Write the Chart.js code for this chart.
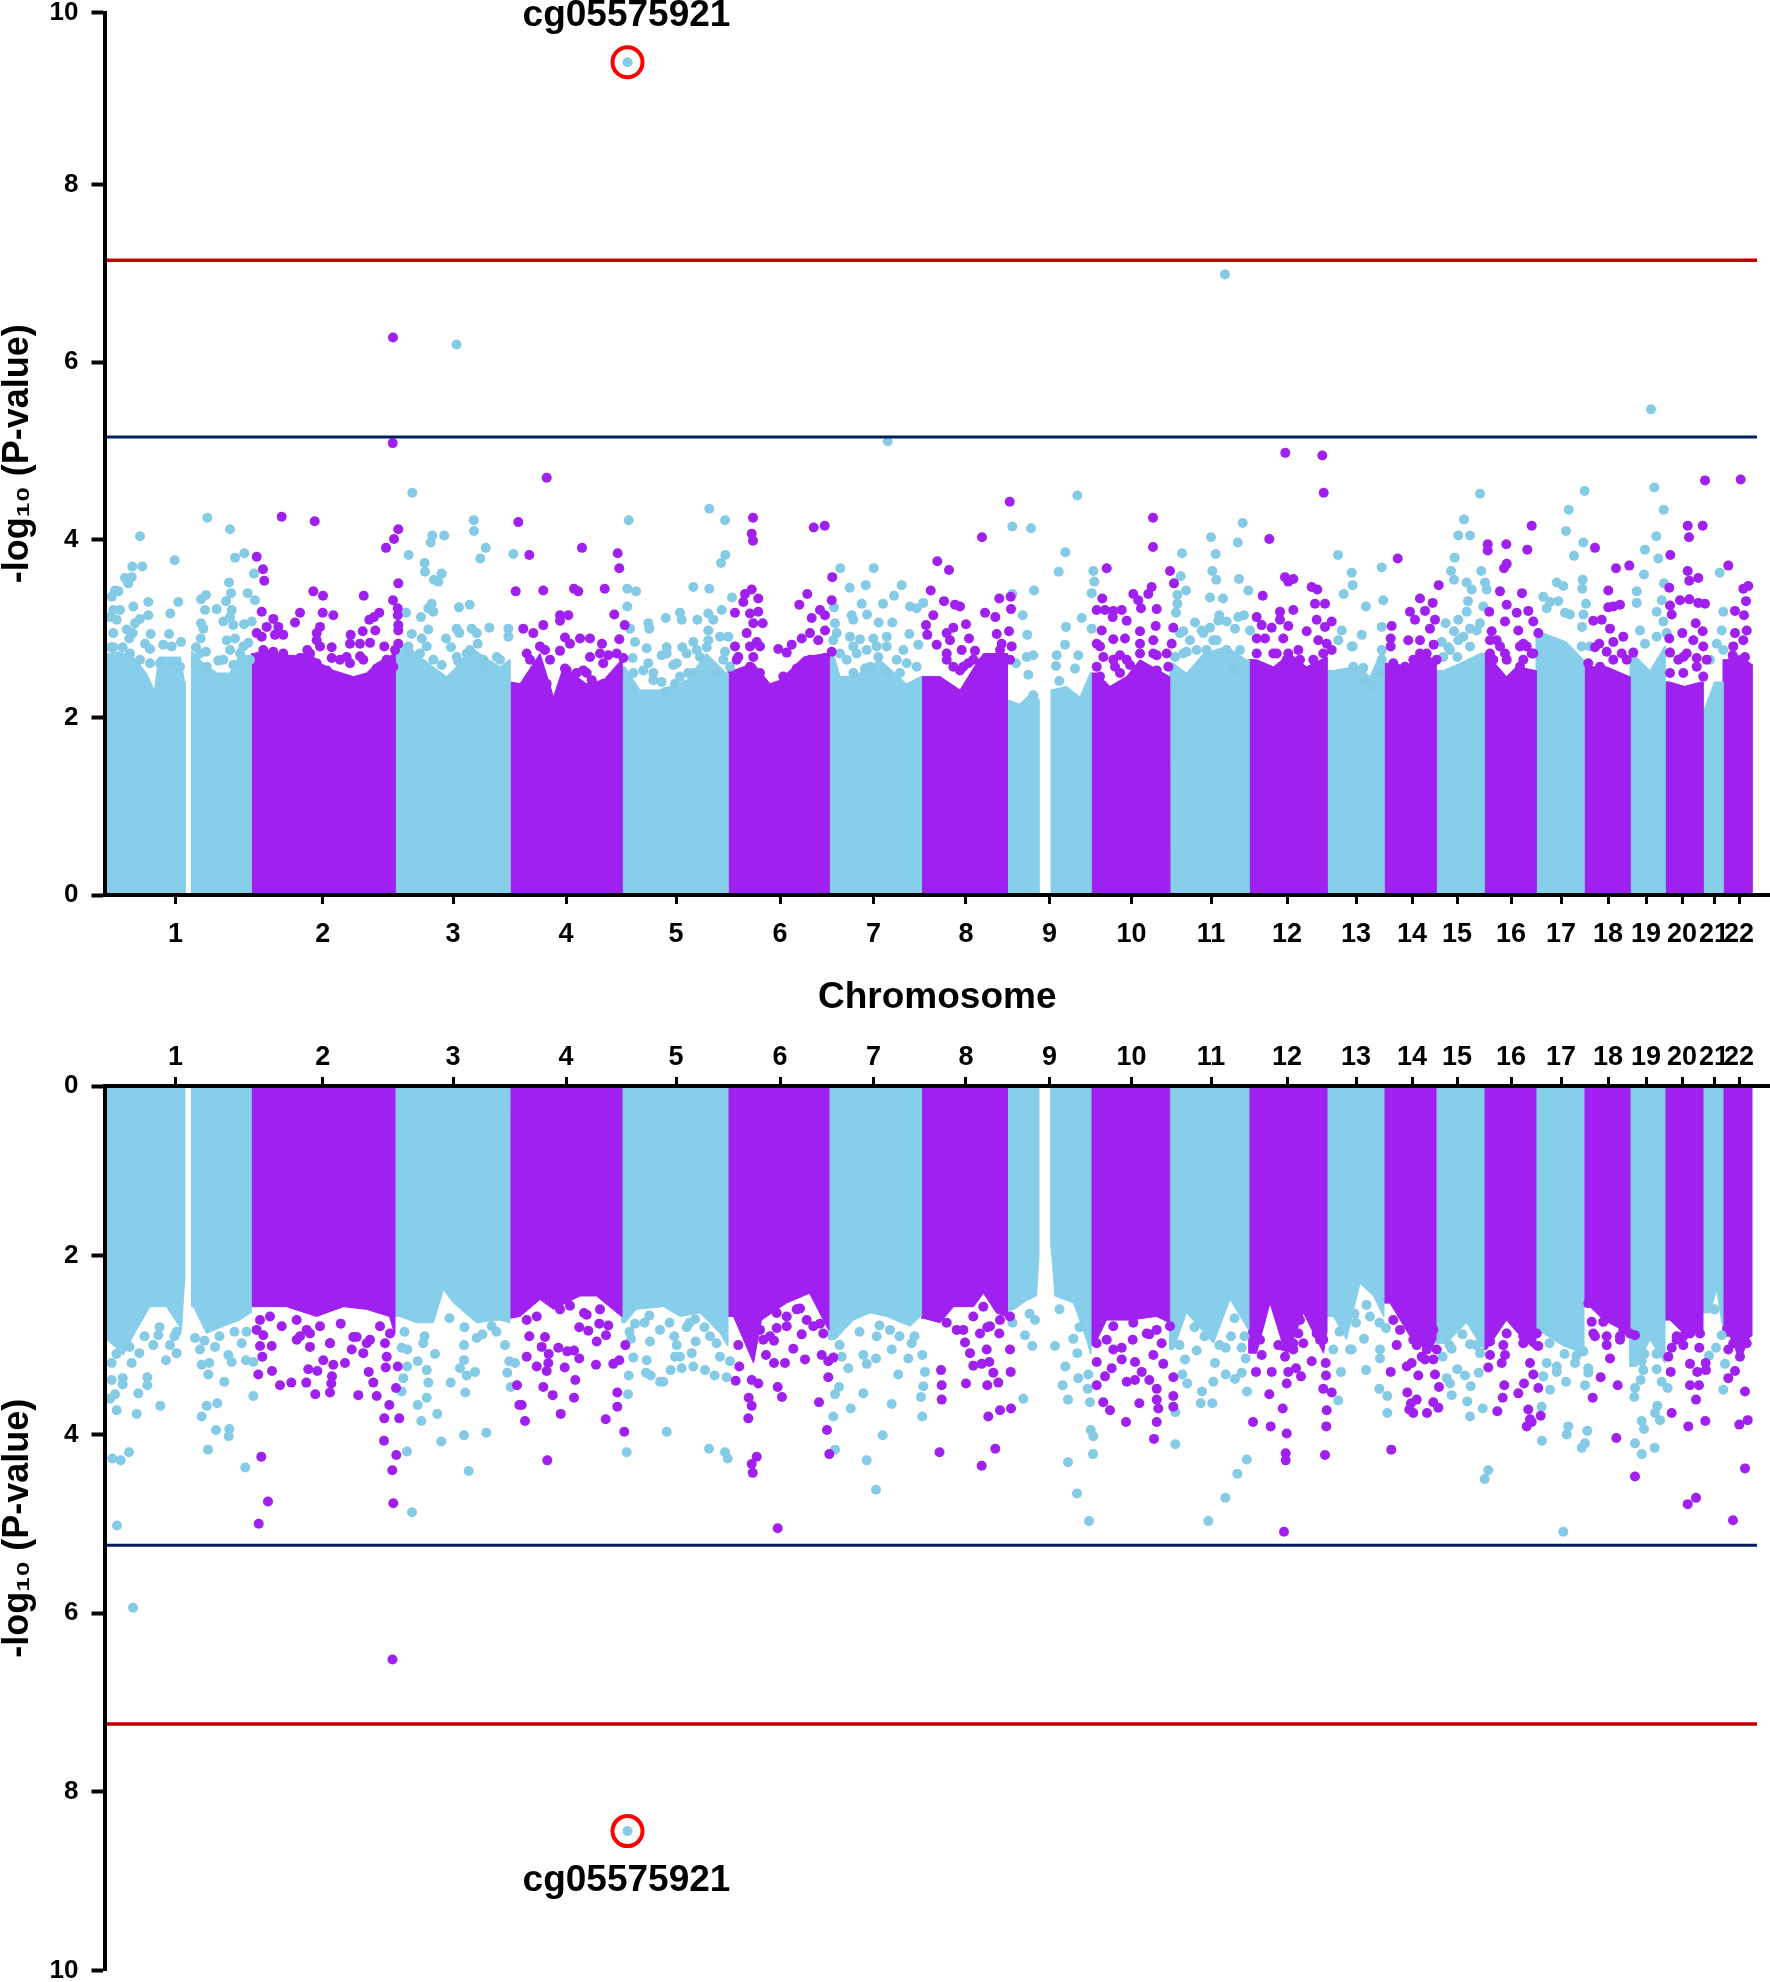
<!DOCTYPE html>
<html>
<head>
<meta charset="utf-8">
<style>
  html, body { margin: 0; padding: 0; background: #fff; }
  canvas { position: absolute; left: 0; }
  #topChart { top: 0; }
  #bottomChart { top: 1000px; }
</style>
<script src="https://cdn.jsdelivr.net/npm/chart.js@4"></script>
</head>
<body>
<canvas id="topChart" width="1770" height="1040"></canvas>
<canvas id="bottomChart" width="1770" height="982"></canvas>
<script>
// chromosome axis
const chromNames = ['1','2','3','4','5','6','7','8','9','10','11','12','13','14','15','16','17','18','19','20','21','22'];
const chromTicks = [70.9,218.3,348.5,461.5,571.5,675.5,769,861.5,945,1027,1106.5,1182.5,1251.5,1307.5,1352.5,1406.5,1456.5,1503.5,1541.5,1577.5,1609.5,1634.5];
const xMax = 1665.5;
const lineEnd = 1652.5;

// y axis: the printed ticks are not quite evenly spaced, so 10 (top) and 0 (bottom) sit a bit off
const yTickLabels = [0,2,4,6,8,10];
const topYTicks = [0,2,4,6,8,9.94];
const bottomYTicks = [0.1,2,4,6,8,10];

// significance lines
const topRedLine = 7.15, topBlueLine = 5.16;
const bottomRedLine = 7.24, bottomBlueLine = 5.24;

// highlighted probe
const probeName = 'cg05575921';
const topProbe = [523, 9.38];
const bottomProbe = [523, 8.44];

// solid part of each chromosome (1 and 9 have a centromere gap)
const bandChrom = [1,1,2,3,4,5,6,7,8,9,9,10,11,12,13,14,15,16,17,18,19,20,21,22];
const bandEdges = [[2.5,80.5],[87,146.8],[146.8,290.5],[290.5,405.5],[405.5,517.5],[517.5,623.5],[623.5,724.5],[724.5,817],[817,903],[903,934.5],[946.5,986.5],[986.5,1065.2],[1065.2,1144.5],[1144.5,1222.5],[1222.5,1279.5],[1279.5,1331.5],[1331.5,1379.5],[1379.5,1431.5],[1431.5,1479.5],[1479.5,1525.5],[1525.5,1560.5],[1560.5,1598.5],[1598.5,1618.5],[1618.5,1647.5]];

const topBands = [
  [[2.5,2.72],[15,2.74],[29,2.68],[42,2.5],[50,2.3],[54,2.68],[76,2.68],[80,2.4]],
  [[87,2.75],[100,2.6],[113,2.5],[125,2.5],[135,2.7],[146,2.7]],
  [[149,2.72],[162,2.76],[182,2.68],[192,2.65],[202,2.76],[216,2.61],[229,2.53],[249,2.46],[262,2.5],[272,2.61],[290,2.72]],
  [[295.5,2.83],[312,2.72],[329,2.57],[342,2.46],[352,2.57],[366,2.8],[379,2.69],[395.5,2.57],[405,2.65]],
  [[406,2.4],[415.5,2.38],[435.5,2.72],[449,2.23],[459,2.57],[482,2.38],[499,2.42],[517,2.65]],
  [[520.5,2.57],[535.5,2.31],[555.5,2.31],[582,2.42],[602,2.72],[622,2.5]],
  [[629,2.53],[649,2.61],[665.5,2.38],[675.5,2.42],[699,2.68],[722,2.72]],
  [[729,2.72],[735.5,2.46],[749,2.46],[775.5,2.65],[802,2.38],[816,2.46]],
  [[817,2.46],[835.5,2.46],[855.5,2.31],[872,2.61],[879,2.72],[902,2.72]],
  [[903,2.2],[915,2.15],[929,2.3],[934.5,2.2]],
  [[946.5,2.31],[962,2.35],[975.5,2.23],[985.5,2.5]],
  [[992,2.5],[1005.5,2.35],[1022,2.46],[1035.5,2.65],[1065,2.46]],
  [[1069,2.61],[1082,2.5],[1099,2.72],[1122,2.8],[1142,2.65]],
  [[1152,2.65],[1169,2.57],[1185.5,2.72],[1202,2.57],[1222,2.68]],
  [[1229,2.53],[1249,2.57],[1255.5,2.57],[1265.5,2.46],[1279,2.8]],
  [[1289,2.61],[1302,2.57],[1315.5,2.72],[1331,2.65]],
  [[1339,2.53],[1355.5,2.61],[1375.5,2.72]],
  [[1382,2.72],[1402,2.46],[1412,2.57],[1431,2.53]],
  [[1439,2.95],[1462,2.85],[1479,2.65]],
  [[1485.5,2.57],[1502,2.57],[1525,2.46]],
  [[1532,2.68],[1545.5,2.53],[1560,2.8]],
  [[1565,2.4],[1580,2.35],[1597,2.4]],
  [[1600,2.1],[1610,2.4],[1618,2.4]],
  [[1622,2.65],[1635,2.7],[1647,2.6]]
];

const bottomBands = [
  [[2.5,2.94],[18.8,3.11],[32,2.83],[45.5,2.57],[62,2.57],[77,2.83],[80,2.3]],
  [[89,2.57],[102,2.87],[119,2.79],[135.5,2.72],[146,2.64]],
  [[149,2.57],[162,2.57],[182,2.57],[212,2.68],[239,2.57],[262,2.6],[285,2.68],[290,2.87]],
  [[295.5,2.68],[312,2.75],[329,2.75],[339,2.38],[349,2.53],[372,2.75],[395.5,2.72],[405,2.75]],
  [[406,2.7],[415.5,2.68],[435.5,2.49],[449,2.6],[475.5,2.45],[492,2.45],[517,2.68]],
  [[520.5,2.75],[532,2.6],[559,2.57],[575.5,2.68],[595.5,2.64],[615.5,2.87],[623,3.01]],
  [[629,2.68],[649,3.2],[657,2.72],[682,2.53],[705,2.42],[724,2.83]],
  [[730.5,2.94],[749,2.72],[765.5,2.64],[782,2.68],[805.5,2.79],[816,2.68]],
  [[819,2.7],[835.5,2.75],[849,2.57],[869,2.57],[879,2.42],[892,2.64],[902,2.68]],
  [[903,2.62],[910,2.6],[922,2.5],[932,2.45],[934.5,2.0]],
  [[946.5,1.9],[950.5,2.45],[969,2.53],[982,2.94],[986,3.1]],
  [[990,3.0],[1002,2.72],[1025.5,2.72],[1052,2.68],[1065,2.75]],
  [[1069,3.05],[1082,2.64],[1109,2.98],[1125.5,2.49],[1144,2.83]],
  [[1152,3.09],[1165.5,2.53],[1182,3.13],[1199,2.64],[1219,3.09],[1222,2.87]],
  [[1229,2.68],[1242,2.94],[1255.5,2.31],[1269,2.45],[1279,2.68]],
  [[1285.5,2.53],[1305.5,2.9],[1325.5,3.09],[1331,2.94]],
  [[1342,2.98],[1362,2.75],[1379,3.05]],
  [[1382,3.05],[1402,2.72],[1419,2.94],[1431,3.05]],
  [[1439,2.87],[1459,3.01],[1479,3.09]],
  [[1485.5,2.57],[1499,2.72],[1525,2.87]],
  [[1532,3.24],[1545.5,2.94],[1560,3.2]],
  [[1565.5,2.72],[1582,2.9],[1598,2.83]],
  [[1605.5,2.64],[1612,2.38],[1618,2.79]],
  [[1625.5,2.9],[1635.5,3.17],[1645.5,2.9]]
];

// scattered probes above the solid part
const topBlue = [
  [523,9.38],[1120.5,6.99],[352,6.2],[1546.5,5.47],[783.2,5.11],
  [35.5,4.04],[102.8,4.25],[125.5,4.12],[70.2,3.77],[130.5,3.8],[139.8,3.85],[27.8,3.7],[37.8,3.7],[149.5,3.62],[20.5,3.57],[27.2,3.58],[23.8,3.51],[10.5,3.43],[7.2,3.36],[13.8,3.42],[43.8,3.3],[73.8,3.3],[124.5,3.52],[126.5,3.4],[101.5,3.38],[96.5,3.33],[143.2,3.4],[150.5,3.32],[121.5,3.31],[28.8,3.25],[15.5,3.21],[8.8,3.21],[5.5,3.13],[12.2,3.1],[65.8,3.17],[100.5,3.21],[112.2,3.22],[127.2,3.21],[125.5,3.13],[43.8,3.15],[35.5,3.11],[30.5,3.06],[96.5,3.06],[98.8,3],[118.8,3.08],[128.8,3.04],[139.5,3.05],[147.2,3.08],[22.2,2.99],[28.2,2.95],[8.8,2.95],[24.8,2.89],[46.2,2.94],[64.5,2.94],[96.2,2.89],[122.2,2.87],[130.5,2.89],[40.5,2.83],[45.5,2.77],[58.8,2.82],[67.2,2.8],[76.5,2.85],[6.5,2.79],[18.2,2.79],[91.5,2.79],[101.5,2.74],[138.8,2.8],[143.8,2.84],[45.5,2.61],[113.8,2.64],[128.8,2.59],
  [307.8,4.53],[369.2,4.22],[369.5,4.1],[327.8,4.05],[339.8,4.05],[326.2,3.97],[381.2,3.91],[304.2,3.83],[375.8,3.79],[408.8,3.84],[320.2,3.74],[320.5,3.64],[337.2,3.62],[329.5,3.55],[333.8,3.53],[301.5,3.18],[327.2,3.28],[323.8,3.23],[328.8,3.19],[354.5,3.24],[365.2,3.27],[316.5,3.13],[323.8,2.99],[317.2,2.89],[307.2,2.94],[341.5,2.89],[352.2,3],[354.8,2.95],[367.2,3],[372.2,2.95],[384.8,3.01],[403.8,3],[403.8,2.91],[346.5,2.79],[373.2,2.83],[365.5,2.76],[352.2,2.68],[353.8,2.63],[322.2,2.8],[337.2,2.59],[378.8,2.65],[392.2,2.68],[303.8,2.8],
  [524.2,4.22],[604.8,4.35],[620.5,4.22],[620.8,3.83],[616.5,3.74],[588.8,3.47],[604.8,3.45],[522.8,3.45],[531.5,3.42],[522.8,3.25],[627.5,3.35],[561.2,3.12],[575.5,3.18],[577.2,3.1],[592.8,3.1],[603.8,3.17],[617.2,3.21],[608.8,3.1],[543.8,3.06],[544.8,3],[525.5,3],[603.8,2.98],[615.5,2.91],[623.8,2.91],[603.8,2.87],[530.5,2.85],[542.2,2.78],[562.2,2.79],[577.8,2.79],[588.8,2.85],[592.2,2.76],[557.2,2.7],[568.8,2.59],[543.8,2.61],[620.5,2.74],[528.2,2.67],[548.8,2.5],[557.2,2.4],[570.5,2.38],[561.2,2.29],[625.5,2.57],[583.8,2.5],
  [735.8,3.68],[769.2,3.68],[745.2,3.46],[761.2,3.49],[797.2,3.49],[789.5,3.37],[757.2,3.28],[778.5,3.28],[729.5,3.24],[747.2,3.15],[762.5,3.16],[748.8,3.1],[774.2,3.07],[787.8,3.07],[805.5,3.25],[818.8,3.29],[812.2,3.23],[730.5,3.06],[732.2,2.95],[728.8,2.87],[804.8,2.94],[745.5,2.91],[755.5,2.88],[768.8,2.89],[782.2,2.91],[798.8,2.76],[813.8,2.82],[748.8,2.8],[760.5,2.55],[773.8,2.68],
  [972.8,4.5],[907.8,4.15],[926.5,4.13],[960.8,3.86],[954.2,3.64],[929.5,3.43],[907.8,3.39],[918.2,3.15],[961.5,3.02],[922.8,2.93],[977.2,3.12],[960.5,2.82],[952.2,2.7],[951.5,2.58],[954.8,2.41],[922.2,2.68],[928.8,2.7],[923.8,2.48],[970.5,2.55],[973.8,2.7],[987.2,3],[987.2,3.4],[989.8,3.53],[988.8,3.65],[911.5,2.61],[928.8,2.25],
  [1077.5,3.85],[1106.5,4.03],[1111.2,3.84],[1138.2,4.19],[1133.2,3.97],[1107.8,3.65],[1111.8,3.55],[1076.2,3.59],[1081.5,3.43],[1134.5,3.56],[1143.8,3.43],[1105.5,3.35],[1118.5,3.34],[1072.8,3.38],[1072.8,3.28],[1071.5,3.18],[1114.8,3.15],[1090.5,3.07],[1113.8,3.09],[1122.2,3.08],[1133.8,3.13],[1139.5,3.15],[1105.5,3.01],[1130.5,3],[1145.5,2.98],[1078.8,2.97],[1097.2,2.98],[1082.2,2.74],[1108.8,2.87],[1070.5,2.68],
  [1233.5,3.83],[1247.2,3.63],[1248.2,3.49],[1239.2,3.39],[1237.2,2.98],[1233.8,2.87],[1247.2,2.8],[1261.5,3.25],[1277.2,3.69],[1278.8,3.32],[1257.2,2.93],[1248.2,2.8],[1258.8,2.56],[1277.2,3.02],[1277.2,2.76],
  [1375.5,4.52],[1359.5,4.23],[1353.8,4.05],[1365.5,4.05],[1350.2,3.8],[1346.5,3.65],[1349.5,3.55],[1376.8,3.65],[1362.2,3.52],[1367.2,3.44],[1380.5,3.52],[1382.2,3.44],[1363.5,3.31],[1362.2,3.19],[1378.8,3.25],[1353.8,3.1],[1341.2,3.06],[1375.5,3.06],[1365.5,3],[1349.5,2.97],[1337.2,2.85],[1343.8,2.79],[1353.8,2.87],[1352.8,2.68],
  [1480.2,4.55],[1464.2,4.34],[1461.5,4.1],[1478.8,3.97],[1469.5,3.82],[1452.2,3.52],[1458.8,3.48],[1478.2,3.55],[1477.8,3.45],[1438.8,3.36],[1445.5,3.3],[1453.8,3.31],[1442.2,3.23],[1460.5,3.18],[1465.5,3.16],[1481.5,3.28],[1478.8,3.16],[1477.5,3.02],[1477.2,2.8],[1485.5,2.8],
  [1549.8,4.59],[1559.2,4.34],[1551.8,4.04],[1540.5,3.89],[1553.8,3.79],[1539.5,3.61],[1559.5,3.51],[1532.2,3.42],[1532.2,3.29],[1557.2,3.32],[1552.2,3.19],[1558.8,3.08],[1535.5,2.98],[1552.2,2.91],[1540.5,2.83],[1562.2,2.95],
  [1615.2,3.63],[1618.8,3.19],[1617.2,2.98],[1612.2,2.83],[1605.5,2.65],[1618.8,2.76]
];

const topPurple = [
  [288.5,6.28],[288.2,5.09],
  [177.2,4.26],[210.2,4.21],[293.8,4.12],[289.5,4.01],[281.5,3.91],[152.2,3.81],[158.5,3.67],[159.8,3.54],[293.8,3.51],[208.8,3.42],[218.5,3.37],[259.2,3.37],[288.5,3.32],[293.2,3.23],[293.2,3.15],[157.2,3.19],[195.5,3.18],[218.2,3.18],[228.8,3.15],[274.8,3.18],[269.5,3.13],[264.8,3.1],[168.8,3.11],[190.5,3.07],[162.2,3.02],[173.8,3.02],[215.5,3.02],[293.8,3.04],[293.8,2.98],[152.2,2.95],[157.2,2.91],[170.5,2.93],[178.8,2.93],[212.2,2.95],[212.2,2.87],[246.2,2.93],[258.2,2.97],[270.8,2.98],[245.5,2.83],[255.5,2.83],[265.5,2.84],[279.8,2.8],[215.5,2.8],[227.2,2.79],[158.8,2.76],[168.8,2.74],[178.8,2.72],[202.8,2.76],[293.8,2.83],[290.5,2.76],[227.2,2.67],[242.2,2.68],[255.5,2.69],[188.8,2.65],
  [413.8,4.2],[411.2,3.42],[442.2,4.7],[424.8,3.83],[477.5,3.91],[513.2,3.85],[514.8,3.68],[438.8,3.43],[469.5,3.45],[473.8,3.42],[500.2,3.45],[455.5,3.15],[463.8,3.15],[455.5,3.09],[509.8,3.16],[438.8,3.04],[418.8,3],[428.8,2.95],[520.2,3.04],[460.5,2.9],[475.5,2.89],[485.5,2.89],[465.5,2.83],[455.5,2.75],[497.5,2.83],[514.8,2.88],[440.5,2.76],[425.5,2.65],[485.5,2.68],[495.5,2.72],[503.8,2.7],[518.8,2.67],[460.5,2.55],[478.8,2.53],
  [648.5,4.25],[647.2,4.07],[648.5,3.99],[709.2,4.14],[720.2,4.16],[727.8,3.58],[702.8,3.39],[694.8,3.27],[647.2,3.44],[640.5,3.39],[653.8,3.34],[638.8,3.3],[630.5,3.18],[645.5,3.17],[653.8,3.19],[658.2,3.06],[648.8,3.06],[715.5,3.21],[727.2,3.32],[707.2,3.12],[720.5,3.15],[720.5,2.98],[713.8,2.87],[705.5,2.95],[697.2,2.89],[642.2,2.95],[652.2,2.85],[630.5,2.8],[673.8,2.77],[682.2,2.73],[687.2,2.82],[648.8,2.68],[633.8,2.68],[727.2,2.74],[720.5,2.67],
  [832.8,3.76],[826.2,3.43],[828.8,3.15],[821.5,3.04],[822.8,2.93],[832.2,2.82],[844.5,3.66],[877.5,4.03],[905.2,4.43],[839.5,3.31],[850.5,3.27],[855.5,3.25],[880.5,3.18],[890.8,3.13],[894.8,3.34],[906.5,3.22],[906.2,3.36],[861.5,3.05],[848.8,3.01],[892.2,2.94],[904.5,2.97],[864.5,2.89],[842.2,2.95],[845.5,2.87],[857.2,2.76],[870.5,2.75],[897.2,2.83],[907.2,2.8],[842.2,2.72],[877.2,2.62],[863.8,2.61],[855.5,2.53],[895.5,2.76],
  [1048.5,4.25],[1048.5,3.92],[1002.2,3.68],[1065.5,3.65],[1069.5,3.51],[997.8,3.34],[1047.2,3.47],[1043.8,3.39],[1028.8,3.39],[1033.8,3.32],[1036.5,3.23],[1052.2,3.22],[992.2,3.21],[1000.5,3.21],[1008.8,3.2],[1017.2,3.21],[1008.2,3.13],[1022.2,3.09],[1051.2,3.03],[1068.8,3.01],[997.2,2.98],[1008.8,2.88],[1020.5,2.89],[1035.5,2.97],[1048.8,2.87],[992.2,2.83],[998.8,2.68],[1015.5,2.7],[1035.5,2.83],[1067.2,2.83],[1052.2,2.7],[1010.5,2.57],[995.5,2.46],[1025.5,2.59],[1063.8,2.57],
  [1180.8,4.98],[1217.8,4.95],[1219.2,4.53],[1164.8,4.01],[1180.5,3.58],[1188.8,3.56],[1183.8,3.53],[1207.2,3.47],[1212.8,3.44],[1158.2,3.37],[1210.5,3.28],[1220.5,3.28],[1175.5,3.19],[1188.8,3.21],[1152.2,3.13],[1157.2,3.04],[1167.2,3.01],[1175.5,3.1],[1183.8,3.03],[1212.2,3.1],[1227.2,3.08],[1220.5,3.02],[1202.2,2.97],[1178.8,2.89],[1152.2,2.89],[1160.5,2.89],[1213.8,2.87],[1222.2,2.83],[1168.8,2.72],[1183.8,2.72],[1193.8,2.76],[1227.2,2.76],
  [1293.2,3.79],[1334.2,3.49],[1315.5,3.34],[1328.2,3.29],[1320.5,3.2],[1305.5,3.19],[1310.5,3.1],[1330.5,3.1],[1287.2,3.03],[1325.5,3],[1286.2,2.89],[1286.2,2.8],[1303.8,2.87],[1315.5,2.87],[1329.2,2.82],[1315.5,2.72],
  [1383.2,3.95],[1383.2,3.88],[1401.8,3.95],[1427.2,4.16],[1422.8,3.89],[1402.2,3.73],[1399.5,3.68],[1395.5,3.42],[1417.5,3.4],[1402.2,3.27],[1384.8,3.19],[1412.2,3.18],[1423.8,3.2],[1400.5,3.08],[1428.8,3.08],[1413.8,2.98],[1433.8,2.95],[1387.2,2.97],[1392.2,2.87],[1418.8,2.83],[1400.5,2.72],[1427.2,2.72],[1385.5,2.72],[1415.5,2.57],
  [1490.5,3.91],[1511.5,3.68],[1524.8,3.71],[1503.8,3.43],[1503.8,3.24],[1508.8,3.25],[1515.5,3.27],[1488.8,3.09],[1497.2,3.1],[1505.5,3],[1518.8,2.91],[1494.8,2.83],[1508.8,2.85],[1528.8,2.73],[1490.5,2.79],[1502.2,2.74],[1517.2,2.72],[1483.8,2.61],
  [1583.2,4.16],[1598.2,4.16],[1584.5,4.03],[1600.5,4.67],[1565.8,3.83],[1583.2,3.65],[1593.8,3.57],[1584.8,3.54],[1564.8,3.46],[1575.5,3.32],[1584.8,3.33],[1593.8,3.29],[1600.5,3.28],[1565.5,3.26],[1567.2,3.16],[1591.2,3.06],[1598.2,2.97],[1577.8,2.95],[1564.8,2.89],[1588.8,2.87],[1598.8,2.8],[1565.5,2.73],[1578.8,2.68],[1592.2,2.67],
  [1636.2,4.68],[1623.8,3.71],[1638.8,3.45],[1643.8,3.48],[1641.5,3.31],[1630.5,3.2],[1639.5,3.15],[1642.2,2.98],[1630.5,2.95],[1638.8,2.87],[1628.2,2.7],[1640.5,2.68]
];

// denser chains just above the solid part
const topBlueChain = [
  [8.8,2.79],[25.5,2.72],[35.5,2.65],[55.5,2.61],[68.8,2.61],[75.5,2.57],[95.5,2.72],[102.2,2.57],[118.8,2.65],[135.5,2.72],[145.5,2.65],[125.5,2.76],
  [305.5,2.72],[315.5,2.72],[328.8,2.65],[362.2,2.72],[378.8,2.57],[395.5,2.65],
  [528.8,2.5],[538.8,2.53],[548.8,2.42],[562.2,2.72],[572.2,2.61],[582.2,2.72],[595.5,2.68],[602.2,2.79],[612.2,2.5],[618.8,2.65],[575.5,2.46],[588.8,2.5],
  [742.2,2.65],[752.2,2.72],[762.2,2.76],[772.2,2.8],[782.2,2.8],[792.2,2.65],[802.2,2.61],[812.2,2.57],[735.5,2.72],[748.8,2.5],[765.5,2.57],[782.2,2.5],[795.5,2.5],
  [1075.5,2.95],[1085.5,2.87],[1098.8,2.95],[1112.2,2.87],[1122.2,2.76],[1135.5,2.76],[1128.8,2.53],[1078.8,2.72],[1092.2,2.76],[1102.2,2.76],
  [1248.8,2.57],[1258.8,2.42],[1268.8,2.35],[1277.2,2.65],[1275.5,2.5],
  [1345.5,2.76],[1358.8,2.91],[1372.2,2.98],[1365.5,2.8],[1338.8,2.68]
];

const topPurpleChain = [
  [155.5,2.65],[165.5,2.65],[175.5,2.57],[185.5,2.65],[195.5,2.67],[205.5,2.72],[212.2,2.61],[222.2,2.53],[235.5,2.65],[245.5,2.61],[258.8,2.65],[272.2,2.55],[282.2,2.65],[288.8,2.57],
  [422.2,2.72],[435.5,2.8],[445.5,2.65],[462.2,2.53],[472.2,2.5],[482.2,2.5],[487.2,2.42],[498.8,2.61],[512.2,2.72],[428.8,2.46],[442.2,2.38],[458.8,2.38],[472.2,2.35],[498.8,2.38],
  [632.2,2.65],[645.5,2.57],[655.5,2.5],[678.8,2.46],[692.2,2.55],[705.5,2.65],[718.8,2.61],[675.5,2.35],[688.8,2.46],[702.2,2.53],[645.5,2.8],[655.5,2.8],
  [842.2,2.65],[848.8,2.57],[858.8,2.57],[868.8,2.65],[885.5,2.57],[898.8,2.65],[905.5,2.65],[888.8,2.38],
  [995.5,2.8],[1008.8,2.65],[1022.2,2.65],[1035.5,2.72],[1048.8,2.72],[1062.2,2.72],[992.2,2.57],[1015.5,2.5],[1052.2,2.53],
  [1152.2,2.72],[1155.5,2.57],[1172.2,2.72],[1182.2,2.65],[1195.5,2.65],[1208.8,2.65],[1218.8,2.72],[1168.8,2.5],[1202.2,2.5],
  [1288.8,2.61],[1300.5,2.57],[1308.8,2.65],[1322.2,2.72],[1332.2,2.65],[1297.2,2.35],
  [1385.5,2.87],[1395.5,2.8],[1402.2,2.65],[1415.5,2.8],[1422.2,2.8],[1428.8,2.72],[1388.8,2.65],[1418.8,2.65],
  [1495.5,2.57],[1508.8,2.65],[1522.2,2.65],[1485.5,2.42],[1512.2,2.46],
  [1573.8,2.65],[1582.2,2.72],[1592.2,2.57],[1602.2,2.65],[1565.5,2.5],[1578.8,2.5],[1598.8,2.46],
  [1628.8,2.65],[1640.5,2.57],[1628.8,2.8]
];

const bottomBlue = [
  [523,8.44],[28.5,5.94],
  [7.2,3.2],[27.2,3.2],[34.8,3.09],[61.5,3.17],[72.2,3.09],[7.2,3.39],[18.2,3.37],[18.2,3.44],[42.8,3.36],[42.8,3.45],[33.8,3.54],[10.5,3.55],[5.5,3.6],[12.2,3.73],[32.2,3.77],[55.8,3.68],[7.8,4.27],[16.2,4.29],[24.5,4.2],[12.5,5.02],[95.5,3.05],[97.2,3.22],[104.8,3.2],[103.8,3.33],[119.8,3.41],[102.2,3.68],[112.8,3.65],[97.2,3.8],[111.5,3.95],[124.8,3.94],[124.2,4.02],[103.5,4.17],[140.8,4.37],[148.8,3.57],[123.8,3.11],[127.2,3.19],[141.5,3.17],[148.8,3.19],[110.5,3.02],[137.2,2.98],[90.5,2.92],[65.5,3],[48.8,3],[72.2,2.85],[53.8,2.89],
  [307.5,4.87],[302.5,4.19],[364.2,4.41],[336.8,4.08],[359.5,4.01],[381.8,3.98],[316.8,3.85],[332.8,3.77],[313.2,3.67],[322.2,3.59],[360.8,3.53],[346.2,3.42],[323.8,3.42],[322.2,3.28],[362.2,3.34],[370.5,3.3],[355.5,3.26],[359.5,3.17],[359.5,3],[330.5,3.1],[313.2,3.18],[302.8,3.24],[297.2,3.03],[302.8,3.05],[318.8,2.98],[298.8,3.37],[297.2,3.52],[402.8,3.31],[406.2,3.47],[404.8,3.18],[410.5,3.2],[400.5,3],[372.2,2.92],[387.2,2.79],
  [522.2,4.2],[562.2,3.97],[604.5,4.16],[620.5,4.2],[623.2,4.27],[523.5,3.55],[524.2,3.34],[528.8,3.14],[542.2,3.17],[541.5,3.31],[546.2,3.34],[555.5,3.41],[558.8,3.41],[566.2,3.28],[577.2,3.26],[588.8,3.24],[600.5,3.28],[610.2,3.34],[622.2,3.36],[615.5,3.13],[625.5,3.18],[570.5,3.13],[587.2,3.09],[575.5,3.13],[545.5,2.96],[526.5,2.93],[572.2,3],[591.2,2.96],[569.8,2.9],[605.5,2.9],[582.2,2.8],[555.5,2.83],[530.5,2.76],[590.5,2.71],[544.8,2.67],
  [771.5,4.62],[762.2,4.29],[778.2,4.01],[730.5,4.17],[817.8,3.8],[746.2,3.71],[728.8,3.8],[787.2,3.66],[816.5,3.58],[758.8,3.54],[730.5,3.55],[734.5,3.47],[818.8,3.46],[820.5,3.3],[793.8,3.33],[743.8,3.26],[762.2,3.21],[771.5,3.15],[817.8,3.11],[803.8,3.15],[758.8,3.11],[787.2,3.05],[807.2,2.98],[737.2,3.13],[772.2,2.9],[785.5,2.83],
  [918.8,3.6],[927.8,3.01],[950.5,3.01],[920.5,2.89],[930.5,2.72],[972.8,3.09],[960.8,3.24],[958.2,3.45],[963.5,3.61],[973.8,3.37],[983.8,3.33],[983.2,3.49],[985.5,3.64],[986.2,3.95],[988.8,4.02],[988.5,4.22],[963.5,4.31],[972.5,4.66],[984.5,4.97],[968.8,2.93],
  [1103.8,4.97],[1120.8,4.71],[1132.8,4.44],[1142.2,4.28],[1070.8,4.11],[1070.8,3.75],[1096.2,3.65],[1107.8,3.65],[1097.5,3.52],[1142.5,3.52],[1082.8,3.43],[1108.8,3.41],[1077.8,3.33],[1121.2,3.33],[1130.5,3.38],[1137.2,3.31],[1110.5,3.2],[1141.2,3.15],[1080.5,3.16],[1092.2,3.06],[1121.2,3.03],[1137.2,3.03],[1126.5,2.9],
  [1233.8,3.62],[1236.5,3.3],[1228.8,3.05],[1245.5,3.05],[1282.8,3.76],[1282.8,3.57],[1274.8,3.49],[1261.5,3.28],[1259.5,2.93],[1265.5,2.68],[1251.5,2.75],[1275.5,3.05],[1275.5,3.15],[1281.5,2.81],[1247.2,3.05],
  [1380.2,4.5],[1383.8,4.4],[1365.5,3.8],[1378.2,3.71],[1362.8,3.63],[1347.2,3.56],[1366.2,3.46],[1345.5,3.43],[1342.2,3.37],[1360.5,3.34],[1352.8,3.27],[1374.2,3.31],[1338.2,3.13],[1365.5,2.99],[1375.5,3.09],[1347.2,3.04],
  [1458.8,5.09],[1437.5,4.07],[1462.2,4],[1463.8,3.91],[1482.8,3.96],[1480.5,4.1],[1477.2,4.15],[1437.2,3.69],[1461.5,3.41],[1480.5,3.45],[1445.5,3.5],[1438.8,3.35],[1452.2,3.3],[1452.2,3.24],[1470.5,3.2],[1483.8,3.26],[1483.8,3.31],[1442.2,3.2],[1478.8,3.07],
  [1537.2,4.22],[1550.2,4.15],[1530.5,4.1],[1539.5,3.94],[1537.2,3.85],[1555.5,3.84],[1550.5,3.76],[1552.8,3.68],[1529.8,3.58],[1530.5,3.48],[1563.2,3.48],[1557.2,3.41],[1536.2,3.39],[1538.8,3.28],[1552.2,3.27],[1537.2,3.18],
  [1618.8,3.5],[1620.5,3.21],[1604.5,3.12],[1611.5,3.03],[1617.2,2.89]
];

const bottomBlueChain = [
  [12,3.1],[25,3.02],[40,2.9],[55,2.8],[70,2.9],[100,2.95],[115,2.9],[130,2.85],[142,2.85],
  [300,2.85],[320,2.9],[345,2.7],[360,2.8],[378,2.88],[392,2.85],
  [525,2.85],[540,2.75],[565,2.75],[585,2.75],[600,2.8],[612,2.98],
  [735,3],[755,2.85],[775,2.78],[795,2.9],[810,2.9],
  [908,2.75],[925,2.65],[955,2.6],[975,2.8],
  [1075,3],[1090,2.8],[1100,2.9],[1115,3],[1130,2.7],[1140,2.9],
  [1235,2.85],[1250,2.65],[1262,2.55],[1275,2.75],
  [1345,3],[1358,2.88],[1372,3],
  [1445,2.98],[1460,3.1],[1472,3.12],
  [1540,3.1],[1552,3.1],
  [1610,2.6]
];

const bottomPurple = [
  [288,6.52],
  [154.2,5],[163.5,4.75],[156.8,4.25],[288.8,4.77],[287.8,4.4],[291.8,4.23],[279.5,4.07],[279.8,3.82],[294.8,3.82],[284.8,3.67],[253.8,3.56],[272.2,3.57],[225.5,3.53],[210.8,3.55],[175.5,3.45],[186.8,3.42],[201.8,3.42],[226.8,3.43],[268.8,3.42],[291.5,3.48],[153.8,3.33],[167.5,3.29],[203.8,3.27],[212.8,3.29],[227.5,3.35],[264.2,3.3],[281.2,3.25],[293.2,3.24],[218.8,3.17],[228.8,3.22],[240.5,3.2],[282.2,3.13],[157.8,3.13],[205.5,3.02],[167.2,3.01],[155.5,3.01],[258.8,3.09],[247.2,3.05],[225.5,2.98],[265.5,2.94],[248.8,2.91],[192.2,2.94],[280.5,2.98],[158.8,2.89],[236.2,2.76],[205.5,2.87],
  [412.5,3.45],[414.8,3.67],[442.8,4.29],[420.5,3.85],[456.2,3.77],[501.2,3.83],[519.8,3.97],[512.8,3.69],[512.8,3.53],[469.5,3.59],[448.2,3.56],[438.8,3.47],[470.8,3.39],[417.2,3.67],[491.5,3.22],[460.2,3.25],[442.2,3.29],[432.2,3.24],[443.8,3.2],[508.8,3.21],[514.8,3.17],[422.2,3.13],[474.8,3.15],[444.2,3.1],[462.8,3.07],[469.5,3.06],[453.8,3.03],[437.2,3.02],[440.5,2.91],[424.8,2.9],[492.2,2.96],[501.5,2.89],[474.8,2.8],[483.8,2.84],[494.8,2.76],[503.8,2.78],[520.8,3],[482.2,2.66],
  [673.2,5.05],[652.2,4.25],[647.2,4.33],[648.2,4.43],[643.8,3.82],[647.2,3.68],[644.2,3.59],[673.2,3.47],[677.5,3.58],[714.5,3.64],[722.5,3.95],[724.8,4.22],[723.8,3.36],[631.2,3.4],[653.8,3.43],[647.2,3.39],[634.8,3.24],[669.5,3.2],[680.5,3.2],[700.5,3.16],[717.2,3.11],[723.8,3.18],[728.8,3.14],[661.5,3.11],[688.8,3.04],[633.8,3],[669.5,2.95],[697.2,2.88],[658.8,2.94],[672.2,2.81],[708.8,2.79],[660.5,2.62],[695.5,2.59],
  [877.2,4.35],[890.8,4.16],[835,4.2],[883.8,3.8],[895.5,3.73],[906.5,3.71],[861.5,3.43],[882.8,3.45],[893.8,3.42],[888.8,3.31],[906.2,3.3],[868.8,3.23],[877.2,3.21],[884.8,3.19],[865.5,3.09],[905.5,3.05],[882.2,3.05],[860.5,2.97],[875.5,2.87],[894.8,2.87],[852.2,2.83],[882.8,2.8],[837.2,3.45],[836.5,3.28],[837.2,3.61],
  [992.2,3.19],[1021.5,3.86],[1049.5,4.05],[1052.2,3.86],[1034.8,3.65],[1052.2,3.61],[1053.8,3.71],[1068.8,3.57],[1068.8,3.69],[998.8,3.64],[1005.5,3.73],[992.2,3.45],[1000.5,3.35],[1007.2,3.26],[1017.2,3.16],[1022.2,3.41],[1030.5,3.39],[1044.8,3.39],[1052.2,3.49],[1037.2,3.3],[1030.5,3.19],[1068.8,3.36],[1058.8,3.21],[1048.8,3.11],[1008.8,3.05],[1017.2,3.03],[1028.2,2.94],[1057.2,2.98],[1044.8,2.88],
  [1179.5,5.09],[1220.5,4.23],[1181.2,4.21],[1181.2,4.29],[1182.2,3.99],[1166.2,3.91],[1148.5,3.86],[1221.8,3.91],[1178.2,3.71],[1222.2,3.73],[1164.8,3.55],[1218.8,3.49],[1227.2,3.53],[1182.2,3.43],[1221.5,3.34],[1151.5,3.3],[1167.2,3.3],[1183.8,3.3],[1191.5,3.26],[1196.5,3.35],[1221.2,3.2],[1207.2,3.18],[1180.5,3.13],[1157.2,3.11],[1188.8,3.05],[1198.8,2.98],[1173.8,3],[1193.8,2.87],[1215.5,2.94],
  [1286.8,4.17],[1308.8,3.76],[1322.5,3.76],[1304.8,3.72],[1333.8,3.7],[1328.8,3.64],[1312.2,3.61],[1306.5,3.65],[1302.8,3.53],[1334.5,3.47],[1286.2,3.3],[1313.8,3.34],[1330.5,3.33],[1302.2,3.24],[1307.2,3.2],[1292.2,3],[1320.5,3.16],[1328.8,3.16],[1312.2,3],
  [1392.8,3.74],[1398.2,3.59],[1399.8,3.45],[1413.8,3.54],[1425.5,3.83],[1423.8,3.72],[1436.2,3.79],[1427.2,3.86],[1422.2,3.91],[1419.5,3.43],[1433.8,3.48],[1428.8,3.33],[1425.5,3.2],[1383.8,3.25],[1397.2,3.2],[1385.5,3.11],[1400.5,3.11],[1433.8,3.01],[1385.5,2.96],[1418.8,2.98],
  [1530.5,4.47],[1511.8,4.04],[1488.2,3.59],[1513.2,3.45],[1496.2,3.36],[1505.5,3.15],[1483.8,2.53],[1487.2,2.74],[1490.5,2.9],[1498.8,2.74],[1502.2,3],[1515.5,2.94],[1530.5,2.89],
  [1583.2,4.78],[1591.5,4.71],[1567.2,3.76],[1583.8,3.91],[1600.8,3.85],[1591.5,3.61],[1585.5,3.45],[1594.5,3.45],[1592.8,3.3],[1601.5,3.28],[1566.2,3.3],[1585.5,3.21],[1601.2,3.2],[1594.8,3.03],[1567.2,3.03],[1563.8,3.13],[1572.2,2.9],[1578.8,3],
  [1628.5,4.96],[1640.5,4.38],[1634.8,3.89],[1643.2,3.84],[1640.5,3.52],[1623.8,3.37],[1630.5,3.29],[1635.5,3.13],[1623.8,3.05],[1642.2,2.98]
];

const bottomPurpleChain = [
  [155.5,2.72],[165.5,2.68],[177.2,2.79],[192.2,2.72],[202.2,2.83],[215.5,2.79],[195.5,2.9],[225.5,2.98],[252.2,2.91],[262.2,2.98],[275.5,2.79],[285.5,2.87],[152.2,2.83],
  [422.2,2.72],[432.2,2.68],[455.5,2.6],[465.5,2.56],[479.5,2.64],[495.5,2.6],
  [655.5,2.83],[672.2,2.64],[682.2,2.68],[692.2,2.6],[702.2,2.72],[715.5,2.76],[718.8,2.87],[665.5,2.9],[682.2,2.79],
  [842.2,2.75],[858.8,2.83],[868.8,2.68],[878.8,2.57],[885.5,2.79],[895.5,2.72],[905.5,2.68],
  [992.2,2.98],[1002.2,2.94],[1008.8,2.79],[1028.8,2.75],[1042.2,2.87],[1052.2,2.83],[1065.5,2.79],
  [1155.5,2.94],[1152.2,2.79],[1182.2,2.79],[1178.8,3.01],[1195.5,2.72],[1212.2,2.87],[1218.8,2.94],[1188.8,2.98],
  [1288.8,2.72],[1295.5,2.83],[1308.8,2.94],[1328.8,2.83],[1322.2,3.05],[1332.2,3.05],[1317.2,3.13],
  [1385.5,2.9],[1398.8,3],[1402.2,2.87],[1418.8,2.9],[1432.2,2.87],
  [1488.8,2.87],[1502.2,2.9],[1518.8,2.83],[1515.5,2.9],[1525.5,2.87],
  [1578.8,2.9],[1585.5,2.87],[1595.5,2.87],[1572.2,2.94],
  [1628.8,2.98],[1635.5,2.94],[1642.2,2.87]
];

const skyBlue = '#87CEEB';
const purple = '#A020F0';
const fontFamily = '"Liberation Sans", Arial, sans-serif';

const toXY = (pairs) => pairs.map(p => ({ x: p[0], y: p[1] }));

// writes the probe name next to the circled point
const probeLabelPlugin = {
  id: 'probeLabel',
  afterDatasetsDraw(chart, args, opts) {
    const { ctx, scales } = chart;
    ctx.save();
    ctx.font = 'bold 37px ' + fontFamily;
    ctx.fillStyle = '#000';
    ctx.textAlign = 'center';
    ctx.textBaseline = 'middle';
    ctx.fillText(probeName, scales.x.getPixelForValue(opts.point[0]) - 1, scales.y.getPixelForValue(opts.point[1]) + opts.dy);
    ctx.restore();
  }
};

function makePanel(canvasId, p) {
  const baseValue = p.yTicks[0];
  const datasets = [];

  p.bands.forEach((band, i) => {
    const [start, end] = bandEdges[i];
    const first = band[0], last = band[band.length - 1];
    const outline = [[start, baseValue], [start, first[1]], ...band, [end, last[1]], [end, baseValue]];
    datasets.push({
      data: toXY(outline),
      showLine: true,
      fill: 'origin',
      backgroundColor: bandChrom[i] % 2 ? skyBlue : purple,
      borderColor: bandChrom[i] % 2 ? skyBlue : purple,
      borderWidth: 1,
      pointRadius: 0,
      order: 5
    });
  });

  datasets.push({ data: toXY(p.blue), backgroundColor: '#85CBE6', borderWidth: 0, pointRadius: 5, order: 4 });
  datasets.push({ data: toXY(p.purple), backgroundColor: purple, borderWidth: 0, pointRadius: 5, order: 3 });

  datasets.push({ data: toXY([[0, p.red], [lineEnd, p.red]]), showLine: true, borderColor: '#C00000', borderWidth: 3.5, pointRadius: 0, order: 2 });
  datasets.push({ data: toXY([[0, p.navy], [lineEnd, p.navy]]), showLine: true, borderColor: '#002060', borderWidth: 3, pointRadius: 0, order: 2 });

  // red ring round the probe
  datasets.push({
    data: toXY([p.probe]),
    pointRadius: 15,
    backgroundColor: 'transparent',
    borderColor: '#FF0000',
    borderWidth: 4,
    order: 1
  });

  return new Chart(document.getElementById(canvasId), {
    type: 'scatter',
    data: { datasets },
    plugins: [probeLabelPlugin],
    options: {
      responsive: false,
      animation: false,
      events: [],
      layout: { autoPadding: false, padding: p.padding },
      plugins: {
        legend: { display: false },
        tooltip: { enabled: false },
        probeLabel: { point: p.probe, dy: p.labelOffset }
      },
      scales: {
        x: {
          type: 'linear',
          position: p.xPosition,
          min: 0,
          max: xMax,
          afterBuildTicks: (scale) => { scale.ticks = chromTicks.map(v => ({ value: v })); },
          afterFit: (scale) => {
            scale.height = p.xHeight;
            scale.paddingLeft = 0;
            scale.paddingRight = 0;
          },
          border: { color: '#000', width: 4, z: 1 },
          grid: { drawOnChartArea: false, tickLength: 9, tickWidth: 3, tickColor: '#000' },
          ticks: {
            autoSkip: false,
            maxRotation: 0,
            padding: p.xPad,
            color: '#000',
            font: { family: fontFamily, weight: 'bold', size: 27 },
            callback: (v, i) => chromNames[i]
          },
          title: p.xTitle
        },
        y: {
          type: 'linear',
          reverse: p.reverse,
          min: p.yTicks[0],
          max: p.yTicks[p.yTicks.length - 1],
          afterBuildTicks: (scale) => { scale.ticks = p.yTicks.map(v => ({ value: v })); },
          afterFit: (scale) => {
            scale.width = 104.5;
            scale.paddingTop = 0;
            scale.paddingBottom = 0;
          },
          border: { color: '#000', width: 4, z: 1 },
          grid: { drawOnChartArea: false, tickLength: 13, tickWidth: 4, tickColor: '#000' },
          ticks: {
            padding: 13,
            color: '#000',
            font: { family: fontFamily, weight: 'bold', size: 26 },
            callback: (v, i) => yTickLabels[i]
          },
          title: {
            display: true,
            text: '-log₁₀ (P-value)',
            color: '#000',
            padding: { top: -4, bottom: 0 },
            font: { family: fontFamily, weight: 'bold', size: 36 }
          }
        }
      }
    }
  });
}

makePanel('topChart', {
  bands: topBands, blue: topBlue.concat(topBlueChain), purple: topPurple.concat(topPurpleChain),
  red: topRedLine, navy: topBlueLine, probe: topProbe, labelOffset: -46,
  yTicks: topYTicks, reverse: false,
  xPosition: 'bottom', xHeight: 145, xPad: 14,
  padding: { top: 12.5, left: 0, right: 0, bottom: 0 },
  xTitle: {
    display: true,
    text: 'Chromosome',
    color: '#000',
    padding: { top: 0, bottom: 20 },
    font: { family: fontFamily, weight: 'bold', size: 37 }
  }
});

makePanel('bottomChart', {
  bands: bottomBands, blue: bottomBlue.concat(bottomBlueChain), purple: bottomPurple.concat(bottomPurpleChain),
  red: bottomRedLine, navy: bottomBlueLine, probe: bottomProbe, labelOffset: 50,
  yTicks: bottomYTicks, reverse: true,
  xPosition: 'top', xHeight: 86, xPad: 3,
  padding: { top: 0, left: 0, right: 0, bottom: 11.5 },
  xTitle: { display: false }
});
</script>
</body>
</html>
